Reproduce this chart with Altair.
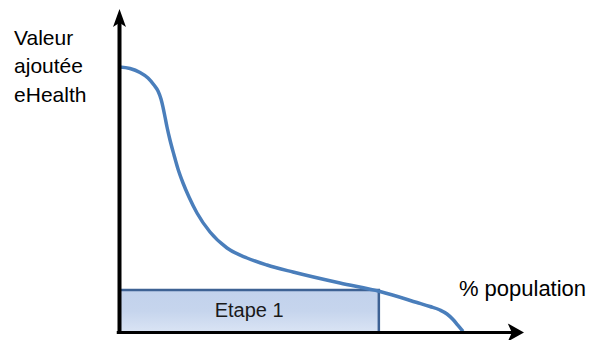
import altair as alt
import pandas as pd

# Curve: eHealth added value vs % population
pop_pct = [0, 3.06, 5.97, 8.30, 10.04, 11.21, 12.08, 12.66, 13.25, 13.83, 14.70, 15.87, 17.03,
           18.49, 20.23, 22.56, 26.35, 31.30, 37.12, 42.94, 50.51, 64.19, 75.84, 86.61, 90.39,
           93.30, 95.34, 97.09, 98.54, 100]
value = [100, 99.44, 97.93, 95.86, 93.22, 90.96, 87.95, 84.93, 81.17, 77.40, 72.50, 66.85, 61.58,
         56.31, 51.04, 45.01, 37.85, 31.83, 28.06, 25.42, 22.79, 18.64, 15.44, 11.30, 9.79,
         8.47, 6.97, 4.90, 2.64, 0.38]

# Stage 1 box
stage_label = ["Etape 1"]
stage_x_end = [75.5]
stage_y_top = [16.0]

# Axis titles
y_title_lines = ["Valeur", "ajoutée", "eHealth"]
x_title = ["% population"]

W, H = 580, 332
xdom = [-32.46, 136.39]
ydom = [-2.825, 122.22]
xs = alt.Scale(domain=xdom, nice=False, zero=False)
ys = alt.Scale(domain=ydom, nice=False, zero=False)

curve_df = pd.DataFrame({"x": pop_pct, "y": value})
box_df = pd.DataFrame({"x": [0], "x2": stage_x_end, "y": [0], "y2": stage_y_top,
                       "label": stage_label,
                       "cx": [stage_x_end[0] / 2], "cy": [stage_y_top[0] / 2]})
ytitle_df = pd.DataFrame({"t": y_title_lines, "x": [-30.7] * 3, "y": [108.3, 97.7, 86.9]})
xtitle_df = pd.DataFrame({"t": x_title, "x": [98.8], "y": [13.7]})
yaxis_df = pd.DataFrame({"x": [0], "y": [-0.6], "y2": [117.5]})
xaxis_df = pd.DataFrame({"x": [-0.8], "x2": [115.0], "y": [0]})
arrow_up_df = pd.DataFrame({"x": [0], "y": [118.5]})
arrow_right_df = pd.DataFrame({"x": [115.4], "y": [0]})

X = lambda f="x": alt.X(f, type="quantitative", scale=xs, axis=None)
Y = lambda f="y": alt.Y(f, type="quantitative", scale=ys, axis=None)

grad = alt.LinearGradient(
    gradient="linear",
    stops=[alt.GradientStop(color="#c2d2ec", offset=0),
           alt.GradientStop(color="#c6d5ed", offset=0.5),
           alt.GradientStop(color="#dae4f4", offset=1)],
    x1=0, x2=0, y1=0, y2=1)

box = alt.Chart(box_df).mark_rect(fill=grad, stroke="#3e6294", strokeWidth=2.5).encode(
    x=X("x"), x2="x2", y=Y("y"), y2="y2")

box_text = alt.Chart(box_df).mark_text(font="Liberation Sans", fontSize=20, color="#1a1a1a",
                                       align="center", baseline="middle").encode(
    x=X("cx"), y=Y("cy"), text="label:N")

curve = alt.Chart(curve_df).mark_line(color="#4a7ebb", strokeWidth=3.5, interpolate="monotone").encode(
    x=X("x"), y=Y("y"))

yaxis = alt.Chart(yaxis_df).mark_rule(color="black", strokeWidth=4).encode(
    x=X("x"), y=Y("y"), y2="y2")
xaxis = alt.Chart(xaxis_df).mark_rule(color="black", strokeWidth=3).encode(
    x=X("x"), x2="x2", y=Y("y"))

arrow_up = alt.Chart(arrow_up_df).mark_point(
    shape="M0,-1 L0.72,1 L0,0.55 L-0.72,1 Z", size=324, filled=True, color="black", opacity=1
).encode(x=X("x"), y=Y("y"))
arrow_right = alt.Chart(arrow_right_df).mark_point(
    shape="M0.9,0 L-0.9,1 L-0.45,0 L-0.9,-1 Z", size=324, filled=True, color="black", opacity=1
).encode(x=X("x"), y=Y("y"))

ytitle = alt.Chart(ytitle_df).mark_text(font="Liberation Sans", fontSize=21, color="black",
                                        align="left", baseline="alphabetic").encode(
    x=X("x"), y=Y("y"), text="t:N")
xtitle = alt.Chart(xtitle_df).mark_text(font="Liberation Sans", fontSize=22, color="black",
                                        align="left", baseline="alphabetic").encode(
    x=X("x"), y=Y("y"), text="t:N")

chart = alt.layer(box, curve, box_text, yaxis, xaxis, arrow_up, arrow_right, ytitle, xtitle).properties(
    width=W, height=H, autosize=alt.AutoSizeParams(type="none"), padding=0, background="white"
).configure_view(stroke=None)

chart.save("out.html", embed_options={"renderer": "svg", "actions": False})
